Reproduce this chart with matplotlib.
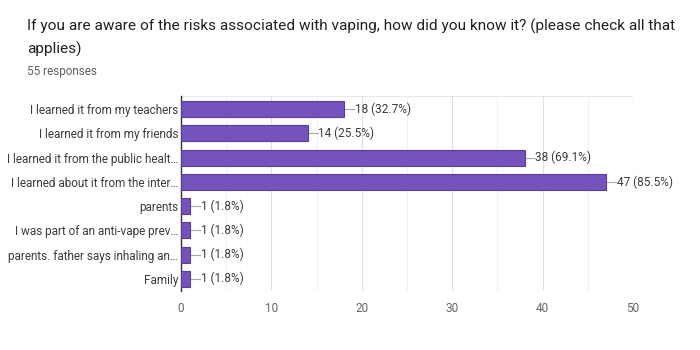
import matplotlib.pyplot as plt
from matplotlib.ticker import MultipleLocator

# answers to the checkbox question, top to bottom
options = [
    "I learned it from my teachers",
    "I learned it from my friends",
    "I learned it from the public healt\u2026",
    "I learned about it from the inter\u2026",
    "parents",
    "I was part of an anti-vape prev\u2026",
    "parents. father says inhaling an\u2026",
    "Family",
]
counts = [18, 14, 38, 47, 1, 1, 1, 1]
total = 55

title = "If you are aware of the risks associated with vaping, how did you know it? (please check all that\napplies)"
subtitle = "55 responses"

plt.rcParams['font.family'] = ['Roboto', 'DejaVu Sans']

fig = plt.figure(figsize=(7, 3.5), dpi=100)
ax = fig.add_axes([0.2586, 0.169, 0.6457, 0.557])

ypos = list(range(len(options)))
ax.barh(ypos, counts, height=0.66, color='#7453bd', edgecolor='#5b3d9e', linewidth=0.8, zorder=3)

# value labels with the little leader line
for y, c in zip(ypos, counts):
    pct = round(c / total * 100, 1)
    ax.plot([c, c + 1.1], [y, y], color='#aaaaaa', lw=0.8, zorder=2, clip_on=False)
    ax.text(c + 1.2, y, f"{c} ({pct}%)", va='center', ha='left', fontsize=8.5, color='#3c3c3c')

ax.set_xlim(0, 50)
ax.set_ylim(7.5, -0.55)
ax.set_yticks(ypos)
ax.set_yticklabels(options, fontsize=8.5, color='#3c3c3c')
ax.xaxis.set_major_locator(MultipleLocator(10))
ax.xaxis.set_minor_locator(MultipleLocator(5))
ax.tick_params(axis='x', labelsize=8.5, colors='#666666', length=0, pad=8, which='both')
ax.tick_params(axis='y', length=0, pad=2)
ax.grid(True, axis='x', which='major', color='#e0e0e0', lw=0.8, zorder=0)
ax.grid(True, axis='x', which='minor', color='#f0f0f0', lw=0.8, zorder=0)
for s in ['top', 'right', 'bottom']:
    ax.spines[s].set_visible(False)
ax.spines['left'].set_color('#333333')
ax.spines['left'].set_linewidth(1.0)
ax.axhline(-0.55, color='#e8e8e8', lw=0.8, zorder=0)
ax.axhline(7.5, color='#e8e8e8', lw=0.8, zorder=0)

fig.text(27 / 700, 1 - 19 / 350, title, fontsize=11.1, color='#202124', va='top', ha='left', linespacing=1.65)
fig.text(27 / 700, 1 - 65 / 350, subtitle, fontsize=8.5, color='#5f6368', va='top', ha='left')

fig.savefig('out.png', dpi=100, facecolor='white')
